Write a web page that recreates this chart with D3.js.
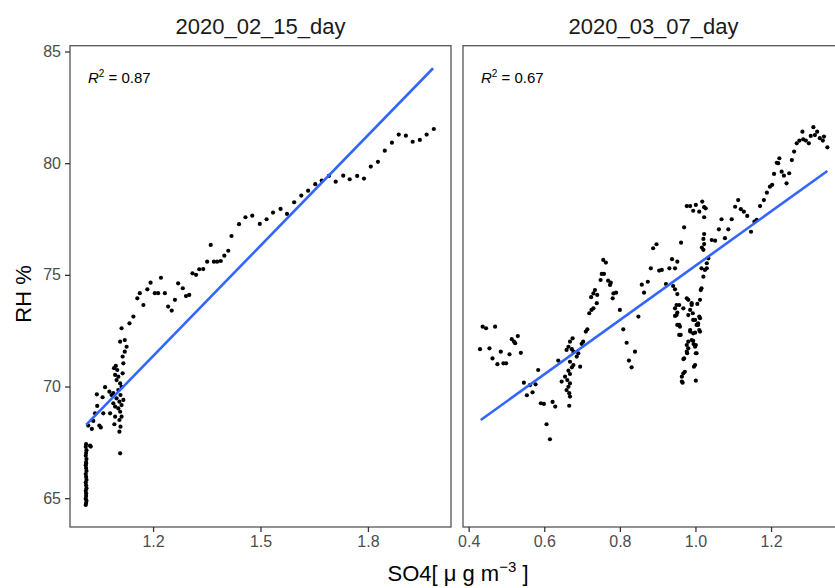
<!DOCTYPE html>
<html>
<head>
<meta charset="utf-8">
<script src="https://cdn.jsdelivr.net/npm/d3@7"></script>
<style>
  body { margin: 0; background: #fff; }
  svg { font-family: "Liberation Sans", Arial, sans-serif; display: block; }
</style>
</head>
<body>
<div id="chart"></div>
<script>
// Data
const panelTitles = ["2020_02_15_day", "2020_03_07_day"];
const r2Labels = ["0.87", "0.67"];

const leftX = [
  1.013, 1.012, 1.014, 1.013, 1.012, 1.014, 1.013, 1.012, 1.013, 1.014, 1.012, 1.013, 1.014, 1.012,
  1.013, 1.014, 1.012, 1.013, 1.013, 1.012, 1.014, 1.013, 1.012, 1.013,
  1.024, 1.026, 1.019, 1.029, 1.033, 1.038, 1.050, 1.054, 1.044, 1.043, 1.059, 1.066, 1.061,
  1.080, 1.078, 1.084, 1.089, 1.094, 1.092,
  1.096, 1.100, 1.094, 1.103, 1.098, 1.108, 1.112, 1.103, 1.109, 1.098, 1.106, 1.112, 1.103,
  1.108, 1.112, 1.106, 1.109, 1.106, 1.108, 1.091, 1.115, 1.089, 1.117, 1.094,
  1.112, 1.108, 1.121, 1.126, 1.121, 1.115, 1.117,
  1.134, 1.145, 1.156, 1.163, 1.173, 1.184, 1.193, 1.205, 1.214, 1.222, 1.233, 1.242, 1.252,
  1.261, 1.270, 1.283, 1.292, 1.301,
  1.310, 1.320, 1.329, 1.340, 1.351, 1.361, 1.370, 1.379, 1.389, 1.399, 1.410, 1.419, 1.440,
  1.458, 1.477, 1.498, 1.517, 1.535, 1.556, 1.574, 1.594, 1.614, 1.633, 1.653, 1.671, 1.691,
  1.710, 1.731, 1.749, 1.770, 1.789, 1.808, 1.828, 1.847, 1.867, 1.886, 1.906, 1.925, 1.945,
  1.964, 1.984
];
const leftY = [
  67.42, 67.30, 67.15, 67.02, 66.90, 66.75, 66.62, 66.48, 66.35, 66.22, 66.08, 65.95, 65.82, 65.70,
  65.58, 65.45, 65.33, 65.22, 65.10, 64.98, 64.88, 64.78, 64.70, 66.55,
  67.35, 67.31, 68.25, 68.10, 68.46, 68.80, 68.25, 68.17, 69.13, 69.65, 69.52, 69.97, 68.80,
  68.80, 69.77, 69.62, 69.25, 69.10, 68.31,
  70.92, 70.74, 70.52, 70.44, 70.29, 70.14, 69.99, 69.84, 69.62, 69.47, 69.32, 69.17, 69.02,
  68.87, 68.65, 68.50, 68.20, 67.98, 67.01, 70.82, 70.59, 69.70, 69.40, 68.65,
  72.61, 72.01, 72.08, 71.78, 71.56, 71.34, 71.04,
  72.83, 73.13, 73.95, 74.18, 73.65, 74.35, 74.65, 74.18, 74.18, 74.87, 74.18, 73.58, 73.40,
  73.88, 74.62, 74.40, 74.05, 74.10,
  75.07, 75.00, 75.25, 75.26, 75.59, 76.34, 75.59, 75.59, 75.62, 75.86, 76.08, 76.74, 77.27,
  77.58, 77.65, 77.28, 77.49, 77.79, 77.95, 77.73, 78.25, 78.55, 78.77, 79.06, 79.22, 79.43,
  79.17, 79.44, 79.28, 79.43, 79.31, 79.85, 80.06, 80.56, 80.92, 81.28, 81.23, 80.96, 81.04,
  81.28, 81.53
];

const rightX = [
  0.437, 0.446, 0.470, 0.430, 0.455, 0.463, 0.476, 0.485, 0.492, 0.499, 0.508, 0.514, 0.520,
  0.523, 0.530, 0.538, 0.546, 0.554, 0.562, 0.569, 0.577, 0.584, 0.591, 0.599, 0.606, 0.615,
  0.622, 0.629, 0.637,
  0.756, 0.763, 0.752, 0.758, 0.749, 0.769, 0.776, 0.774, 0.790, 0.783, 0.781, 0.734, 0.730,
  0.740, 0.724, 0.739, 0.730, 0.725, 0.719, 0.714, 0.710, 0.703, 0.699, 0.695, 0.675, 0.668,
  0.664, 0.659, 0.673, 0.677, 0.686, 0.690, 0.668, 0.677, 0.673, 0.664, 0.655, 0.668, 0.661,
  0.668, 0.664, 0.659, 0.666, 0.668, 0.646, 0.666,
  0.800, 0.809, 0.818, 0.824, 0.831, 0.840, 0.849,
  0.858, 0.864, 0.874, 0.882, 0.904, 0.911, 0.931, 0.938, 0.952, 0.922, 0.941, 0.946, 0.952,
  0.950, 0.946, 0.952, 0.950, 0.952, 0.957, 0.959, 0.968, 0.977, 0.981, 0.990, 0.986, 0.993,
  0.981, 0.999, 1.003, 1.007, 1.012, 1.010, 0.999, 0.986, 0.990, 0.994, 0.977, 0.981, 0.977,
  0.999, 1.003, 0.970, 0.999, 0.972, 0.968, 0.964, 0.964, 1.001, 1.012, 1.016, 1.021, 1.025,
  1.030, 1.021, 1.034,
  1.014, 0.957, 0.990, 1.005, 0.946, 0.957, 0.961, 0.994, 1.010, 1.007, 0.986, 0.994, 1.012,
  0.981, 0.995, 1.001, 0.978, 1.001, 0.968, 0.996, 0.966,
  0.888, 0.897, 0.946, 0.962, 0.970, 0.977, 0.986, 0.994, 1.001, 1.010, 1.018, 1.023, 1.027,
  1.023, 1.023, 1.021, 1.023, 1.017, 1.016, 1.030, 1.043, 1.052, 1.062, 1.069, 1.078, 1.087,
  1.096, 1.105, 1.113, 1.120, 1.128, 1.137, 1.147, 1.156, 1.162, 1.171, 1.181, 1.189, 1.197,
  1.203, 1.208, 1.215, 1.222, 1.219, 1.228, 1.234, 1.241, 1.248, 1.255, 1.261, 1.268, 1.275,
  1.283, 1.285, 1.292, 1.300, 1.305, 1.312, 1.316, 1.322, 1.329, 1.337, 1.340, 1.349
];
const rightY = [
  72.68, 72.61, 72.68, 71.67, 71.71, 71.26, 71.00, 71.56, 71.04, 71.04, 71.44, 72.12, 72.01,
  71.94, 72.26, 71.51, 70.17, 69.61, 70.06, 69.74, 70.10, 70.74, 69.25, 69.22, 68.31, 67.64,
  69.31, 69.10, 71.16,
  75.67, 75.55, 75.04, 75.04, 74.77, 74.74, 74.65, 74.55, 74.20, 74.17, 73.95, 74.32, 74.17,
  74.10, 74.00, 73.73, 73.50, 73.43, 73.28, 72.56, 72.46, 72.01, 71.91, 70.89, 72.16, 72.01,
  71.78, 71.64, 71.67, 71.56, 71.34, 71.49, 71.11, 70.96, 70.86, 70.71, 70.44, 70.56, 70.29,
  70.14, 69.99, 69.84, 69.70, 69.55, 70.22, 69.14,
  73.43, 72.56, 71.96, 71.16, 70.86, 71.56, 73.13,
  74.56, 74.20, 74.69, 75.29, 75.19, 75.22, 75.29, 75.70, 75.59, 74.59, 74.50, 74.35, 74.14,
  73.65, 73.50, 73.31, 73.20, 72.76, 72.31, 72.68, 73.50, 73.95, 73.88, 73.73, 73.43, 73.28,
  73.20, 72.98, 72.76, 72.83, 73.06, 72.53, 72.41, 72.53, 72.08, 72.05, 71.86, 71.71, 71.56,
  71.78, 71.49, 71.26, 70.96, 70.66, 70.59, 70.44, 70.22, 70.26, 73.88, 74.40, 74.92, 75.22,
  75.52, 76.12, 75.74,
  74.32, 73.65, 73.65, 73.70, 73.16, 72.76, 72.31, 72.98, 73.13, 72.76, 72.46, 72.38, 72.46,
  72.01, 71.90, 71.86, 71.49, 71.49, 71.23, 70.89, 70.17,
  76.19, 76.37, 75.29, 76.44, 77.13, 78.08, 78.08, 77.87, 78.13, 77.83, 78.28, 78.03, 77.98,
  77.58, 76.83, 76.61, 76.38, 76.22, 75.29, 75.29, 76.56, 76.53, 77.04, 77.49, 76.64, 77.04,
  77.49, 78.05, 78.35, 77.94, 77.83, 77.64, 76.93, 77.38, 77.46, 78.08, 78.35, 78.68, 78.95,
  79.03, 79.52, 80.02, 80.22, 80.00, 79.62, 79.44, 79.10, 79.55, 80.14, 80.52, 80.89, 81.01,
  81.41, 81.07, 81.01, 80.89, 81.22, 81.61, 81.26, 81.41, 81.12, 81.01, 81.19, 80.71
];

// fitted regression lines (end points)
const leftFitX = [1.013, 1.982];
const leftFitY = [68.28, 84.25];
const rightFitX = [0.432, 1.349];
const rightFitY = [68.50, 79.65];

// tick labels
const yTicks = [65, 70, 75, 80, 85];
const leftXTicks = [1.2, 1.5, 1.8];
const rightXTicks = [0.4, 0.6, 0.8, 1.0, 1.2];

// Set up SVG container
const W = 835, H = 588;
const panelTop = 45.7, panelBottom = 527;
const panelW = 381;
const panels = [
  { x0: 70, domain: [0.968, 2.032], xs: leftX, ys: leftY, fx: leftFitX, fy: leftFitY, ticks: leftXTicks },
  { x0: 463, domain: [0.385, 1.393], xs: rightX, ys: rightY, fx: rightFitX, fy: rightFitY, ticks: rightXTicks }
];

const svg = d3.select("#chart")
  .append("svg")
  .attr("width", W)
  .attr("height", H)
  .attr("viewBox", `0 0 ${W} ${H}`);

const y = d3.scaleLinear()
  .domain([63.71, 85.26])
  .range([panelBottom, panelTop]);

panels.forEach((p, i) => {
  const x = d3.scaleLinear()
    .domain(p.domain)
    .range([p.x0, p.x0 + panelW]);

  // strip title
  svg.append("text")
    .attr("x", p.x0 + panelW / 2)
    .attr("y", 34)
    .attr("text-anchor", "middle")
    .style("font-size", "22px")
    .style("fill", "#1a1a1a")
    .text(panelTitles[i]);

  // points
  svg.append("g")
    .selectAll("circle")
    .data(d3.range(p.xs.length))
    .enter()
    .append("circle")
    .attr("cx", k => x(p.xs[k]))
    .attr("cy", k => y(p.ys[k]))
    .attr("r", 2.1)
    .attr("fill", "#000");

  // regression line
  svg.append("line")
    .attr("x1", x(p.fx[0]))
    .attr("y1", y(p.fy[0]))
    .attr("x2", x(p.fx[1]))
    .attr("y2", y(p.fy[1]))
    .attr("stroke", "#3366FF")
    .attr("stroke-width", 2.6);

  // R^2 annotation
  const r2 = svg.append("text")
    .attr("x", p.x0 + 18)
    .attr("y", 83)
    .style("font-size", "15px")
    .style("fill", "#000");
  r2.append("tspan").style("font-style", "italic").text("R");
  r2.append("tspan").attr("dy", -6).style("font-size", "10px").text("2");
  r2.append("tspan").attr("dy", 6).text(" = " + r2Labels[i]);

  // panel border
  svg.append("rect")
    .attr("x", p.x0)
    .attr("y", panelTop)
    .attr("width", panelW)
    .attr("height", panelBottom - panelTop)
    .attr("fill", "none")
    .attr("stroke", "#555")
    .attr("stroke-width", 1.3);

  // x axis
  const xAxis = svg.append("g")
    .attr("class", "x-axis")
    .attr("transform", `translate(0, ${panelBottom})`)
    .call(d3.axisBottom(x).tickValues(p.ticks).tickFormat(d3.format(".1f")).tickSize(5).tickPadding(4).tickSizeOuter(0));
  xAxis.select("path").remove();

  if (i === 0) {
    const yAxis = svg.append("g")
      .attr("class", "y-axis")
      .attr("transform", `translate(${p.x0}, 0)`)
      .call(d3.axisLeft(y).tickValues(yTicks).tickSize(5).tickPadding(4).tickSizeOuter(0));
    yAxis.select("path").remove();
  }
});

// Style axes
svg.selectAll(".x-axis line, .y-axis line")
  .attr("stroke", "#333")
  .attr("stroke-width", 1.3);

svg.selectAll(".x-axis text, .y-axis text")
  .attr("fill", "#4d4d4d")
  .style("font-size", "16px")
  .style("font-family", "'Liberation Sans', Arial, sans-serif");

// Axis titles
svg.append("text")
  .attr("transform", "translate(31, 294) rotate(-90)")
  .attr("text-anchor", "middle")
  .style("font-size", "22px")
  .style("fill", "#000")
  .text("RH %");

const xt = svg.append("text")
  .attr("x", 458)
  .attr("y", 581)
  .attr("text-anchor", "middle")
  .style("font-size", "22px")
  .style("fill", "#000");
xt.append("tspan").text("SO4[ \u03BC g m");
xt.append("tspan").attr("dy", -9).style("font-size", "15px").text("\u22123");
xt.append("tspan").attr("dy", 9).text(" ]");
</script>
</body>
</html>
